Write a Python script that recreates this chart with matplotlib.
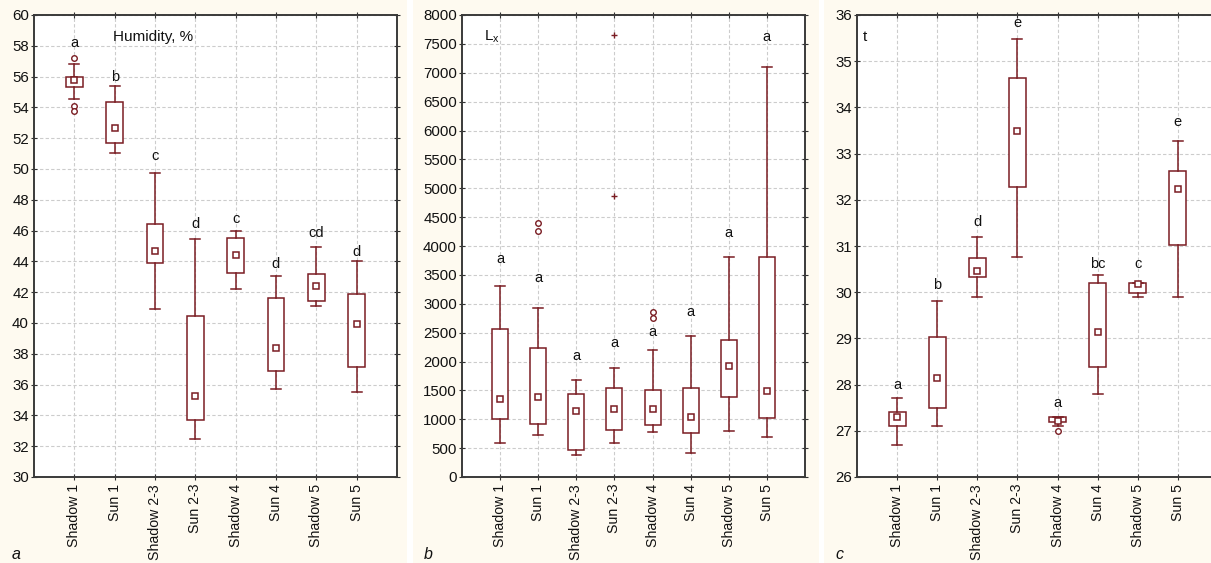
import numpy as np
import matplotlib
matplotlib.use('Agg')
import matplotlib.pyplot as plt
from matplotlib.patches import Rectangle

plt.rcParams['font.family'] = ['Liberation Sans', 'DejaVu Sans']
plt.rcParams['mathtext.fontset'] = 'custom'
plt.rcParams['mathtext.rm'] = 'Liberation Sans'
plt.rcParams['mathtext.it'] = 'Liberation Sans:italic'

sites = ['Shadow 1', 'Sun 1', 'Shadow 2-3', 'Sun 2-3', 'Shadow 4', 'Sun 4', 'Shadow 5', 'Sun 5']

# humidity, %
hum_med = [55.76, 52.69, 44.69, 35.28, 44.40, 38.40, 42.40, 39.94]
hum_q1 = [55.33, 51.66, 43.89, 33.72, 43.27, 36.88, 41.43, 37.12]
hum_q3 = [56.00, 54.37, 46.41, 40.45, 45.55, 41.64, 43.20, 41.88]
hum_lo = [54.56, 51.05, 40.89, 32.47, 42.19, 35.72, 41.10, 35.50]
hum_hi = [56.80, 55.42, 49.76, 45.45, 45.95, 43.05, 44.95, 44.05]
hum_out = [[57.18, 54.09, 53.74], [], [], [], [], [], [], []]
hum_ext = [[], [], [], [], [], [], [], []]
hum_letters = ['a', 'b', 'c', 'd', 'c', 'd', 'cd', 'd']
hum_letter_y = [58.2, 56.0, 50.86, 46.45, 46.73, 43.83, 45.85, 44.62]

# illuminance, lx
lx_med = [1344, 1379, 1137, 1171, 1171, 1033, 1927, 1483]
lx_q1 = [998, 917, 473, 813, 900, 762, 1385, 1021]
lx_q3 = [2561, 2227, 1442, 1540, 1506, 1540, 2365, 3810]
lx_lo = [588, 727, 375, 588, 773, 415, 802, 687]
lx_hi = [3311, 2925, 1679, 1887, 2192, 2446, 3810, 7103]
lx_out = [[], [4397, 4253], [], [], [2856, 2758], [], [], []]
lx_ext = [[], [], [], [7655, 4868], [], [], [], []]
lx_letters = ['a'] * 8
lx_letter_y = [3776, 3450, 2100, 2319, 2504, 2861, 4218, 7615]

# temperature
t_med = [27.30, 28.15, 30.46, 33.49, 27.21, 29.14, 30.17, 32.23]
t_q1 = [27.10, 27.50, 30.33, 32.28, 27.19, 28.39, 29.99, 31.02]
t_q3 = [27.40, 29.04, 30.75, 34.64, 27.30, 30.19, 30.19, 32.63]
t_lo = [26.70, 27.10, 29.90, 30.77, 27.11, 27.79, 29.90, 29.90]
t_hi = [27.70, 29.80, 31.20, 35.49, 27.30, 30.37, 30.20, 33.28]
t_out = [[], [], [], [], [26.99], [], [], []]
t_ext = [[], [], [], [], [], [], [], []]
t_letters = ['a', 'b', 'd', 'e', 'a', 'bc', 'c', 'e']
t_letter_y = [27.99, 30.16, 31.53, 35.83, 27.61, 30.62, 30.60, 33.68]

RED = '#7a1d23'
CREAM = '#fefaf0'
W, H = 1211, 563

fig = plt.figure(figsize=(W / 100, H / 100), dpi=100, facecolor='white')
for x0, x1 in [(0, 407), (413, 819), (824, W)]:
    fig.add_artist(Rectangle((x0 / W, 0), (x1 - x0) / W, 1, transform=fig.transFigure,
                             facecolor=CREAM, edgecolor='none', zorder=-10))


def draw_panel(rect, med, q1, q3, lo, hi, out, ext, letters, letter_y, yticks, title, tag, tag_x):
    ax = fig.add_axes(rect)
    ax.set_facecolor('white')
    pos = np.arange(1, len(sites) + 1)
    stats = []
    for i in range(len(sites)):
        stats.append(dict(med=med[i], mean=med[i], q1=q1[i], q3=q3[i],
                          whislo=lo[i], whishi=hi[i], fliers=out[i]))
    ax.bxp(stats, positions=pos, widths=0.42, capwidths=0.25, showmeans=True,
           patch_artist=True,
           boxprops=dict(facecolor='white', edgecolor=RED, linewidth=1.1),
           whiskerprops=dict(color=RED, linewidth=1.1),
           capprops=dict(color=RED, linewidth=1.1),
           medianprops=dict(linestyle='none'),
           meanprops=dict(marker='s', markerfacecolor='white', markeredgecolor=RED,
                          markersize=4.5, markeredgewidth=1.1),
           flierprops=dict(marker='o', markerfacecolor='white', markeredgecolor=RED,
                           markersize=4, markeredgewidth=1.0),
           zorder=3)
    for p, e in zip(pos, ext):
        if e:
            ax.plot([p] * len(e), e, '+', color=RED, markersize=5, markeredgewidth=1.0, zorder=3)
    for p, l, y in zip(pos, letters, letter_y):
        ax.text(p, y, l, ha='center', va='center', fontsize=10.5, color='#111111', zorder=4)

    ax.set_xlim(0, 9)
    ax.set_ylim(yticks[0], yticks[-1])
    ax.set_yticks(yticks)
    ax.set_xticks(pos)
    ax.set_xticklabels(sites, rotation=90, fontsize=10.2)
    ax.tick_params(axis='y', labelsize=10.8, pad=1.6)
    ax.tick_params(axis='x', pad=3)
    ax.tick_params(which='both', top=True, right=True, direction='inout', length=4,
                   width=0.8, color='#333333', labelcolor='#111111')
    ax.grid(True, linestyle=(0, (3, 2)), color='#cccccc', linewidth=0.8)
    ax.set_axisbelow(True)
    for s in ax.spines.values():
        s.set_color('#3a3a3a')
        s.set_linewidth(1.4)
    ax.text(title[1], 0.944, title[0], transform=ax.transAxes, ha='left', va='baseline',
            fontsize=11, color='#111111')
    fig.text(tag_x / W, (H - 559) / H, tag, style='italic', fontsize=11.5,
             ha='left', va='baseline', color='#111111')
    return ax


draw_panel([34 / W, 86 / H, 363 / W, 462 / H], hum_med, hum_q1, hum_q3, hum_lo, hum_hi,
           hum_out, hum_ext, hum_letters, hum_letter_y, np.arange(30, 61, 2),
           ('Humidity, %', 0.218), 'a', 12)
draw_panel([462 / W, 86 / H, 343 / W, 462 / H], lx_med, lx_q1, lx_q3, lx_lo, lx_hi,
           lx_out, lx_ext, lx_letters, lx_letter_y, np.arange(0, 8001, 500),
           (r'$\mathregular{L_x}$', 0.064), 'b', 424)
draw_panel([857 / W, 86 / H, 361 / W, 462 / H], t_med, t_q1, t_q3, t_lo, t_hi,
           t_out, t_ext, t_letters, t_letter_y, np.arange(26, 37, 1),
           ('t', 0.017), 'c', 835)

fig.savefig('out.png', dpi=100)
